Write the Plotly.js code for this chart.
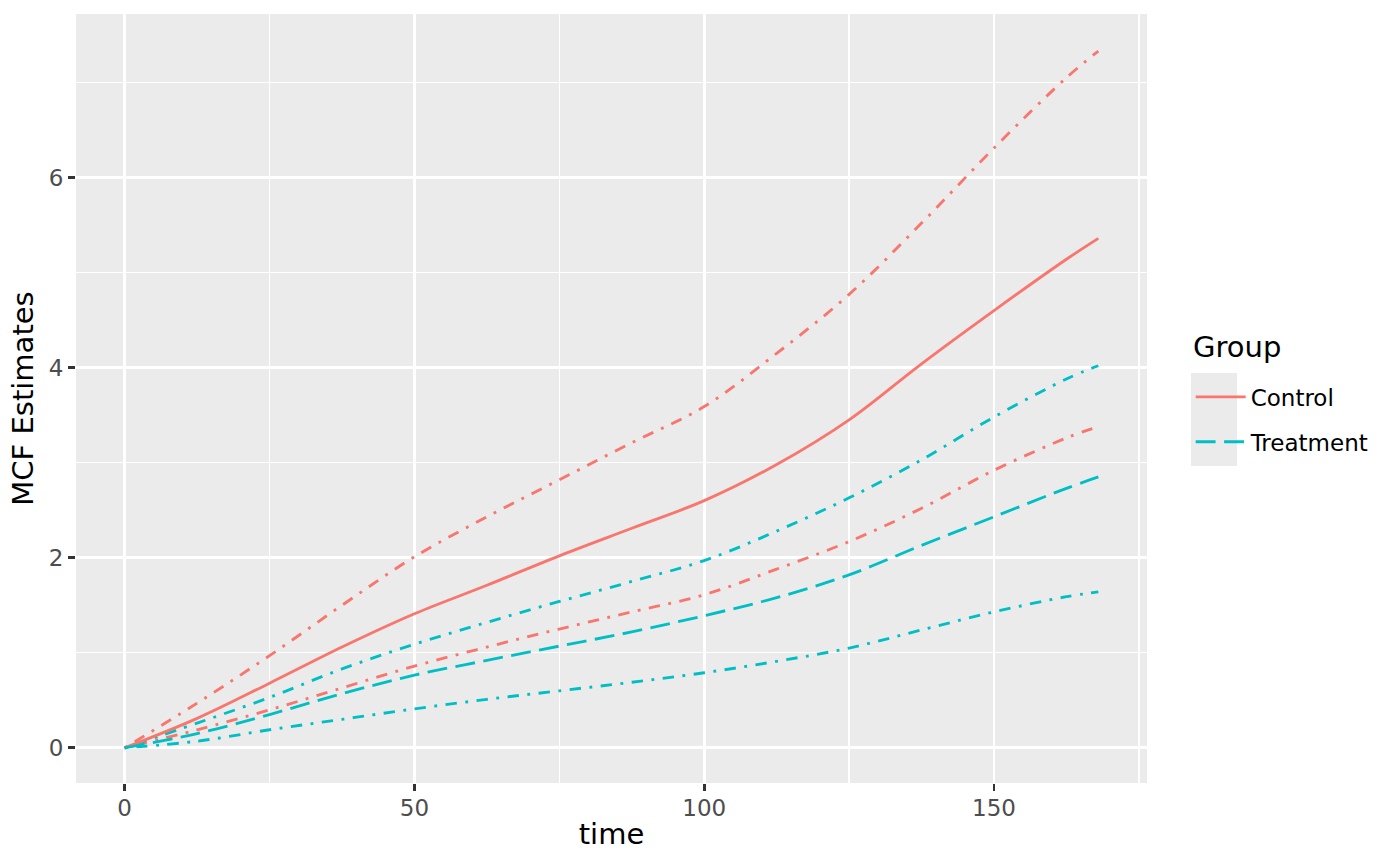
<!DOCTYPE html>
<html>
<head>
<meta charset="utf-8">
<script src="https://cdn.plot.ly/plotly-3.0.1.min.js"></script>
<style>
  html, body { margin: 0; padding: 0; background: #fff; }
  #mcf { width: 1400px; height: 866px; }
</style>
</head>
<body>
<div id="mcf"></div>
<script>
// time points
const time = [0, 12.5, 25, 37.5, 50, 62.5, 75, 87.5, 100, 112.5, 125, 137.5, 150, 162.5, 168];

// Control group: MCF estimate and its confidence limits
const control_mcf   = [0, 0.31, 0.68, 1.06, 1.41, 1.71, 2.02, 2.31, 2.60, 2.98, 3.45, 4.04, 4.60, 5.14, 5.36];
const control_upper = [0, 0.47, 0.97, 1.50, 2.01, 2.43, 2.82, 3.21, 3.59, 4.15, 4.77, 5.52, 6.31, 7.05, 7.33];
const control_lower = [0, 0.19, 0.40, 0.63, 0.86, 1.06, 1.25, 1.43, 1.61, 1.88, 2.17, 2.52, 2.92, 3.26, 3.38];

// Treatment group
const treat_mcf   = [0, 0.15, 0.35, 0.57, 0.765, 0.92, 1.07, 1.22, 1.39, 1.58, 1.82, 2.13, 2.43, 2.73, 2.85];
const treat_upper = [0, 0.26, 0.53, 0.83, 1.09, 1.32, 1.54, 1.75, 1.97, 2.28, 2.63, 3.03, 3.48, 3.88, 4.02];
const treat_lower = [0, 0.07, 0.19, 0.30, 0.41, 0.51, 0.60, 0.69, 0.79, 0.91, 1.05, 1.24, 1.43, 1.59, 1.64];

const groups = ['Control', 'Treatment'];
const legendTitle = 'Group';

const red = '#F8766D';
const cyan = '#00BFC4';
const lw = 2.85;
const dotdash = '2.85px,8.5px,11.4px,8.5px';
const longdash = '19.9px,8.5px';

function makeLine (y, name, color, dash, inLegend) {
    return {
        x: time,
        y: y,
        name: name,
        legendgroup: name,
        showlegend: inLegend,
        type: 'scatter',
        mode: 'lines',
        line: { color: color, width: lw, dash: dash, shape: 'spline', smoothing: 1 },
        hoverinfo: 'x+y+name'
    };
}

const data = [
    makeLine(control_upper, groups[0], red, dotdash, false),
    makeLine(control_lower, groups[0], red, dotdash, false),
    makeLine(treat_upper, groups[1], cyan, dotdash, false),
    makeLine(treat_lower, groups[1], cyan, dotdash, false),
    makeLine(control_mcf, groups[0], red, 'solid', true),
    makeLine(treat_mcf, groups[1], cyan, longdash, true)
];

const titleFont = { family: 'DejaVu Sans', size: 29, color: '#000000' };

const axisCommon = {
    showgrid: true,
    gridcolor: '#FFFFFF',
    gridwidth: 2.8,
    zeroline: false,
    showline: false,
    ticks: 'outside',
    ticklen: 7,
    tickwidth: 2.8,
    tickcolor: '#333333',
    tickfont: { family: 'DejaVu Sans', size: 23, color: '#4D4D4D' }
};

const layout = {
    width: 1400,
    height: 866,
    paper_bgcolor: '#FFFFFF',
    plot_bgcolor: '#EBEBEB',
    margin: { l: 76, r: 253, t: 14, b: 83 },
    font: { family: 'DejaVu Sans', color: '#000000' },
    xaxis: Object.assign({}, axisCommon, {
        range: [-8.4, 176.4],
        tick0: 0,
        dtick: 50,
        ticklabelstandoff: -3,
        minor: { tick0: 0, dtick: 25, showgrid: true, gridcolor: '#FFFFFF', gridwidth: 1.4, ticks: '' },
        title: { text: 'time', font: titleFont, standoff: 4 }
    }),
    yaxis: Object.assign({}, axisCommon, {
        range: [-0.37, 7.72],
        tick0: 0,
        dtick: 2,
        minor: { tick0: 0, dtick: 1, showgrid: true, gridcolor: '#FFFFFF', gridwidth: 1.4, ticks: '' },
        title: { text: 'MCF Estimates', font: titleFont, standoff: 6 }
    }),
    legend: {
        x: 1.0408,
        xanchor: 'left',
        y: 0.530,
        yanchor: 'top',
        bgcolor: 'rgba(0,0,0,0)',
        borderwidth: 0,
        traceorder: 'grouped',
        tracegroupgap: 12,
        itemwidth: 50,
        font: { family: 'DejaVu Sans', size: 23, color: '#000000' }
    },
    annotations: [{
        // legend title, placed on its own so the keys can sit lower
        text: legendTitle,
        xref: 'paper',
        yref: 'paper',
        x: 1.0411,
        xanchor: 'left',
        y: (783 - 347) / 769,
        yanchor: 'middle',
        showarrow: false,
        font: titleFont
    }],
    shapes: [{
        // grey background of the legend keys
        type: 'rect',
        xref: 'paper',
        yref: 'paper',
        x0: 1.0411, x1: 1.0840,
        y0: 0.4122, y1: 0.5332,
        fillcolor: '#EBEBEB',
        line: { width: 0 },
        layer: 'below'
    }],
    showlegend: true
};

Plotly.newPlot('mcf', data, layout, { displayModeBar: false, staticPlot: true });
</script>
</body>
</html>
